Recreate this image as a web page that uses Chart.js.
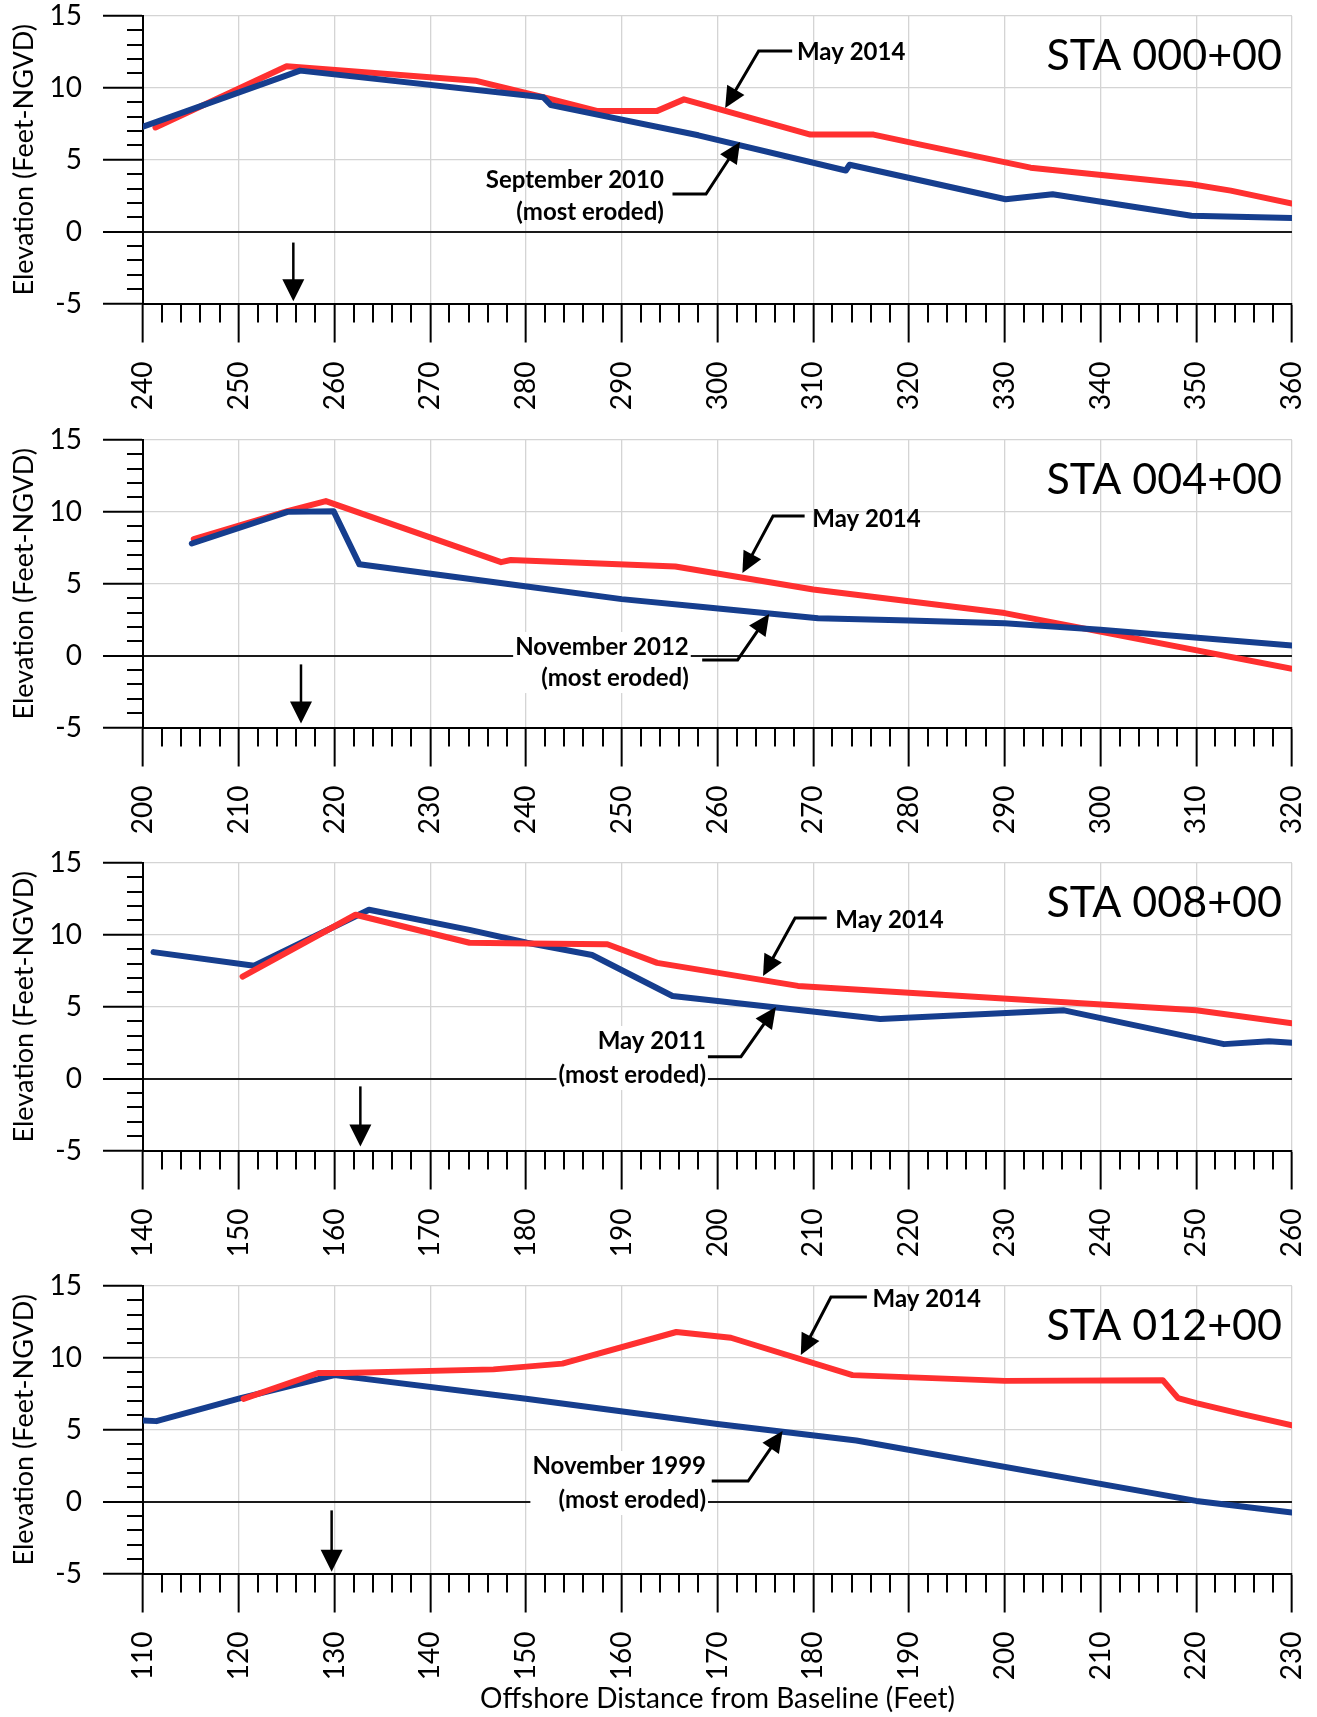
<!DOCTYPE html>
<html>
<head>
<meta charset="utf-8">
<title>Beach profiles STA 000+00 to 012+00</title>
<script src="https://cdn.jsdelivr.net/npm/chart.js@4.4.1/dist/chart.umd.min.js"></script>
<style>
  html, body { margin: 0; padding: 0; background: #fff; }
  #page { position: relative; width: 1317px; height: 1717px; }
  #page canvas { position: absolute; left: 0; }
</style>
</head>
<body>
<div id="page">
  <canvas id="sta000" width="1317" height="424" style="top:0px"></canvas>
  <canvas id="sta004" width="1317" height="424" style="top:424px"></canvas>
  <canvas id="sta008" width="1317" height="424" style="top:847px"></canvas>
  <canvas id="sta012" width="1317" height="447" style="top:1270px"></canvas>
</div>
<script>
// profile data: offshore distance (ft) and elevation (ft NGVD)
const sta000Dist2014 = [241.3, 255, 274.7, 281.8, 287.4, 293.7, 296.5, 309.7, 316.3, 321.2, 332.7, 349.5, 353.6, 360];
const sta000Elev2014 = [7.25, 11.5, 10.5, 9.35, 8.4, 8.4, 9.2, 6.75, 6.75, 6.05, 4.45, 3.3, 2.85, 1.95];
const sta000Dist2010 = [240, 256.4, 281.8, 282.6, 298, 313.4, 313.8, 330.1, 335, 349.5, 360];
const sta000Elev2010 = [7.3, 11.2, 9.35, 8.8, 6.7, 4.25, 4.65, 2.25, 2.6, 1.1, 0.95];

const sta004Dist2014 = [205.3, 215.1, 219.1, 237.4, 238.4, 255.6, 270, 290, 320];
const sta004Elev2014 = [8.1, 10.05, 10.75, 6.5, 6.65, 6.2, 4.6, 2.96, -0.92];
const sta004Dist2012 = [205.1, 215.1, 219.9, 222.6, 239.7, 250, 258.2, 270.5, 280, 290, 300, 320];
const sta004Elev2012 = [7.8, 10.0, 10.05, 6.35, 4.85, 3.93, 3.4, 2.6, 2.45, 2.26, 1.8, 0.7];

const sta008Dist2014 = [150.4, 162.2, 174.1, 180.1, 188.5, 193.7, 208.4, 250, 260];
const sta008Elev2014 = [7.1, 11.4, 9.45, 9.4, 9.35, 8.05, 6.45, 4.75, 3.85];
const sta008Dist2011 = [141.1, 151.6, 163.6, 174.1, 180.1, 186.9, 195.3, 217, 236.2, 252.9, 257.6, 260];
const sta008Elev2011 = [8.8, 7.85, 11.75, 10.35, 9.45, 8.6, 5.75, 4.15, 4.75, 2.4, 2.6, 2.5];

const sta012Dist2014 = [120.5, 128.3, 131.1, 146.6, 153.8, 165.7, 171.4, 184.1, 200, 216.5, 218.1, 220, 224.7, 230];
const sta012Elev2014 = [7.15, 8.95, 8.95, 9.2, 9.6, 11.8, 11.4, 8.8, 8.4, 8.45, 7.2, 6.85, 6.1, 5.3];
const sta012Dist1999 = [110, 111.4, 120.2, 130, 150, 170, 184.5, 220, 230];
const sta012Elev1999 = [5.65, 5.6, 7.2, 8.8, 7.15, 5.4, 4.25, 0.05, -0.75];

// axis ranges
const elevMin = -5;
const elevMax = 15;
const distSpan = 120;

const RED = '#ff3030';
const BLUE = '#163e8e';
const FONT = 'Lato, "DejaVu Sans", sans-serif';

Chart.defaults.font.family = FONT;
Chart.defaults.color = '#000';

function toPoints(xs, ys) {
    return xs.map((x, i) => ({ x: x, y: ys[i] }));
}

// one panel per station; notes are callouts in data units
const profiles = [
    {
        id: 'sta000', station: 'STA 000+00', distMin: 240, redOnTop: false,
        recent: toPoints(sta000Dist2014, sta000Elev2014),
        eroded: toPoints(sta000Dist2010, sta000Elev2010),
        notes: [
            { lines: ['May 2014'], align: 'left', x: 308.3, y: [12.5],
              path: [[307.8, 12.57], [304.3, 12.57], [300.8, 8.6]] },
            { lines: ['September 2010', '(most eroded)'], align: 'right', x: 294.4, y: [3.59, 1.36],
              path: [[295.3, 2.62], [298.8, 2.62], [302.35, 6.23]] }
        ],
        drop: { x: 255.7, from: -0.76, to: -4.85 }
    },
    {
        id: 'sta004', station: 'STA 004+00', distMin: 200, redOnTop: false,
        recent: toPoints(sta004Dist2014, sta004Elev2014),
        eroded: toPoints(sta004Dist2012, sta004Elev2012),
        notes: [
            { lines: ['May 2014'], align: 'left', x: 269.9, y: [9.5],
              path: [[269.1, 9.71], [265.8, 9.71], [262.6, 5.75]] },
            { lines: ['November 2012', '(most eroded)'], align: 'right', x: 257.0, y: [0.6, -1.56], box: true,
              path: [[258.4, -0.3], [262.1, -0.3], [265.4, 2.9]] }
        ],
        drop: { x: 216.5, from: -0.61, to: -4.73 }
    },
    {
        id: 'sta008', station: 'STA 008+00', distMin: 140, redOnTop: true,
        recent: toPoints(sta008Dist2014, sta008Elev2014),
        eroded: toPoints(sta008Dist2011, sta008Elev2011),
        notes: [
            { lines: ['May 2014'], align: 'left', x: 212.3, y: [11.03],
              path: [[211.4, 11.17], [208.1, 11.17], [204.75, 7.14]] },
            { lines: ['May 2011', '(most eroded)'], align: 'right', x: 198.8, y: [2.62, 0.25], box: true,
              path: [[199.0, 1.53], [202.45, 1.53], [206.1, 4.98]] }
        ],
        drop: { x: 162.7, from: -0.54, to: -4.72 }
    },
    {
        id: 'sta012', station: 'STA 012+00', distMin: 110, redOnTop: true, xTitle: true,
        recent: toPoints(sta012Dist2014, sta012Elev2014),
        eroded: toPoints(sta012Dist1999, sta012Elev1999),
        notes: [
            { lines: ['May 2014'], align: 'left', x: 186.2, y: [14.1],
              path: [[185.6, 14.23], [181.85, 14.23], [178.7, 10.2]] },
            { lines: ['November 1999', '(most eroded)'], align: 'right', x: 168.8, y: [2.48, 0.11], box: true,
              path: [[169.4, 1.43], [173.2, 1.43], [176.8, 4.91]] }
        ],
        drop: { x: 129.7, from: -0.61, to: -4.87 }
    }
];

// short ticks between the labelled ones (Chart.js has one tick length per axis)
const minorTicks = {
    id: 'minorTicks',
    afterDraw(chart) {
        const { ctx, chartArea, scales } = chart;
        ctx.save();
        ctx.strokeStyle = '#000';
        ctx.lineWidth = 2;
        ctx.beginPath();
        for (let v = scales.x.min; v <= scales.x.max; v += 2) {
            if (v % 10 === 0) continue;
            const px = Math.round(scales.x.getPixelForValue(v));
            ctx.moveTo(px, chartArea.bottom);
            ctx.lineTo(px, chartArea.bottom + 19);
        }
        for (let v = elevMin; v <= elevMax; v += 1) {
            if (v % 5 === 0) continue;
            const py = Math.round(scales.y.getPixelForValue(v));
            ctx.moveTo(chartArea.left - 16, py);
            ctx.lineTo(chartArea.left, py);
        }
        ctx.stroke();
        ctx.restore();
    }
};

function arrowHead(ctx, fx, fy, tx, ty, len, half) {
    const a = Math.atan2(ty - fy, tx - fx);
    const bx = tx - len * Math.cos(a);
    const by = ty - len * Math.sin(a);
    ctx.beginPath();
    ctx.moveTo(tx, ty);
    ctx.lineTo(bx + half * Math.sin(a), by - half * Math.cos(a));
    ctx.lineTo(bx - half * Math.sin(a), by + half * Math.cos(a));
    ctx.closePath();
    ctx.fill();
}

const NOTE_FONT = 'bold 24px ' + FONT;

const profileNotes = {
    id: 'profileNotes',
    beforeDatasetsDraw(chart, args, opts) {
        // white text boxes hide the zero line behind the labels
        const { ctx, scales } = chart;
        ctx.save();
        ctx.font = NOTE_FONT;
        opts.notes.forEach(n => {
            if (!n.box) return;
            const ax = scales.x.getPixelForValue(n.x);
            const w = Math.max(...n.lines.map(t => ctx.measureText(t).width));
            const top = scales.y.getPixelForValue(n.y[0]) - 15;
            const bottom = scales.y.getPixelForValue(n.y[n.y.length - 1]) + 15;
            ctx.fillStyle = '#fff';
            ctx.fillRect(ax - w - 2, top, w + 4, bottom - top);
        });
        ctx.restore();
    },
    afterDatasetsDraw(chart, args, opts) {
        const { ctx, scales, chartArea } = chart;
        const px = v => scales.x.getPixelForValue(v);
        const py = v => scales.y.getPixelForValue(v);
        ctx.save();
        ctx.fillStyle = '#000';
        ctx.strokeStyle = '#000';

        // callout labels with elbow leaders
        ctx.font = NOTE_FONT;
        ctx.textBaseline = 'middle';
        opts.notes.forEach(n => {
            ctx.textAlign = n.align;
            n.lines.forEach((t, i) => ctx.fillText(t, px(n.x), py(n.y[i])));
            const pts = n.path.map(p => [px(p[0]), py(p[1])]);
            const tip = pts[pts.length - 1];
            const prev = pts[pts.length - 2];
            const a = Math.atan2(tip[1] - prev[1], tip[0] - prev[0]);
            ctx.lineWidth = 3;
            ctx.lineJoin = 'miter';
            ctx.beginPath();
            ctx.moveTo(pts[0][0], pts[0][1]);
            for (let i = 1; i < pts.length - 1; i++) ctx.lineTo(pts[i][0], pts[i][1]);
            ctx.lineTo(tip[0] - 16 * Math.cos(a), tip[1] - 16 * Math.sin(a));
            ctx.stroke();
            arrowHead(ctx, prev[0], prev[1], tip[0], tip[1], 21, 10);
        });

        // downward arrow below the zero line
        const d = opts.drop;
        const dx = px(d.x);
        ctx.lineWidth = 2.5;
        ctx.beginPath();
        ctx.moveTo(dx, py(d.from));
        ctx.lineTo(dx, py(d.to) - 18);
        ctx.stroke();
        arrowHead(ctx, dx, py(d.from), dx, py(d.to), 22, 11);

        // station name
        ctx.font = '43px ' + FONT;
        ctx.textAlign = 'right';
        ctx.textBaseline = 'alphabetic';
        ctx.fillText(opts.station, chartArea.right - 10, chartArea.top + 54);
        ctx.restore();
    }
};

profiles.forEach(p => {
    const canvas = document.getElementById(p.id);
    const plotBottom = 16 + 287.5;
    const recentSet = {
        label: 'May 2014', data: p.recent, borderColor: RED, borderWidth: 6,
        pointRadius: 0, borderJoinStyle: 'round', borderCapStyle: 'round', tension: 0
    };
    const erodedSet = {
        label: 'Most eroded', data: p.eroded, borderColor: BLUE, borderWidth: 6,
        pointRadius: 0, borderJoinStyle: 'round', borderCapStyle: 'round', tension: 0
    };
    // first dataset is painted last (on top)
    const datasets = p.redOnTop ? [recentSet, erodedSet] : [erodedSet, recentSet];

    new Chart(canvas.getContext('2d'), {
        type: 'line',
        data: { datasets: datasets },
        options: {
            responsive: false,
            animation: false,
            events: [],
            layout: { padding: { top: 16, right: 25, left: 0, bottom: 0 } },
            plugins: {
                legend: { display: false },
                tooltip: { enabled: false },
                profileNotes: { station: p.station, notes: p.notes, drop: p.drop }
            },
            scales: {
                x: {
                    type: 'linear',
                    min: p.distMin,
                    max: p.distMin + distSpan,
                    afterFit: s => {
                        s.height = canvas.height - plotBottom;
                        s.paddingLeft = 0;
                        s.paddingRight = 0;
                    },
                    border: { display: true, color: '#000', width: 2 },
                    grid: {
                        color: c => (c.tick.value % 10 === 0 ? '#d4d4d4' : 'rgba(0,0,0,0)'),
                        lineWidth: 1.3,
                        tickColor: c => (c.tick.value % 10 === 0 ? '#000' : 'rgba(0,0,0,0)'),
                        tickWidth: 2,
                        tickLength: 39
                    },
                    ticks: {
                        stepSize: 2,
                        autoSkip: false,
                        minRotation: 90,
                        maxRotation: 90,
                        padding: 19,
                        font: { size: 28 },
                        callback: v => (v % 10 === 0 ? String(v) : '')
                    },
                    title: {
                        display: !!p.xTitle,
                        text: 'Offshore Distance from Baseline (Feet)',
                        font: { size: 28 },
                        padding: { top: 0, bottom: 1 }
                    }
                },
                y: {
                    min: elevMin,
                    max: elevMax,
                    afterFit: s => {
                        s.width = 143;
                        s.paddingTop = 0;
                        s.paddingBottom = 0;
                    },
                    border: { display: true, color: '#000', width: 2 },
                    grid: {
                        color: c => (c.tick.value === 0 ? '#1a1a1a' : (c.tick.value % 5 === 0 ? '#d4d4d4' : 'rgba(0,0,0,0)')),
                        lineWidth: c => (c.tick.value === 0 ? 2 : 1.3),
                        tickColor: c => (c.tick.value % 5 === 0 ? '#000' : 'rgba(0,0,0,0)'),
                        tickWidth: 2,
                        tickLength: 40
                    },
                    ticks: {
                        stepSize: 1,
                        autoSkip: false,
                        padding: 21,
                        font: { size: 28, lineHeight: 1 },
                        callback: v => (v % 5 === 0 ? String(v) : '')
                    },
                    title: {
                        display: true,
                        text: 'Elevation (Feet-NGVD)',
                        font: { size: 27 },
                        padding: { top: 8, bottom: 0 }
                    }
                }
            }
        },
        plugins: [minorTicks, profileNotes]
    });
});
</script>
</body>
</html>
